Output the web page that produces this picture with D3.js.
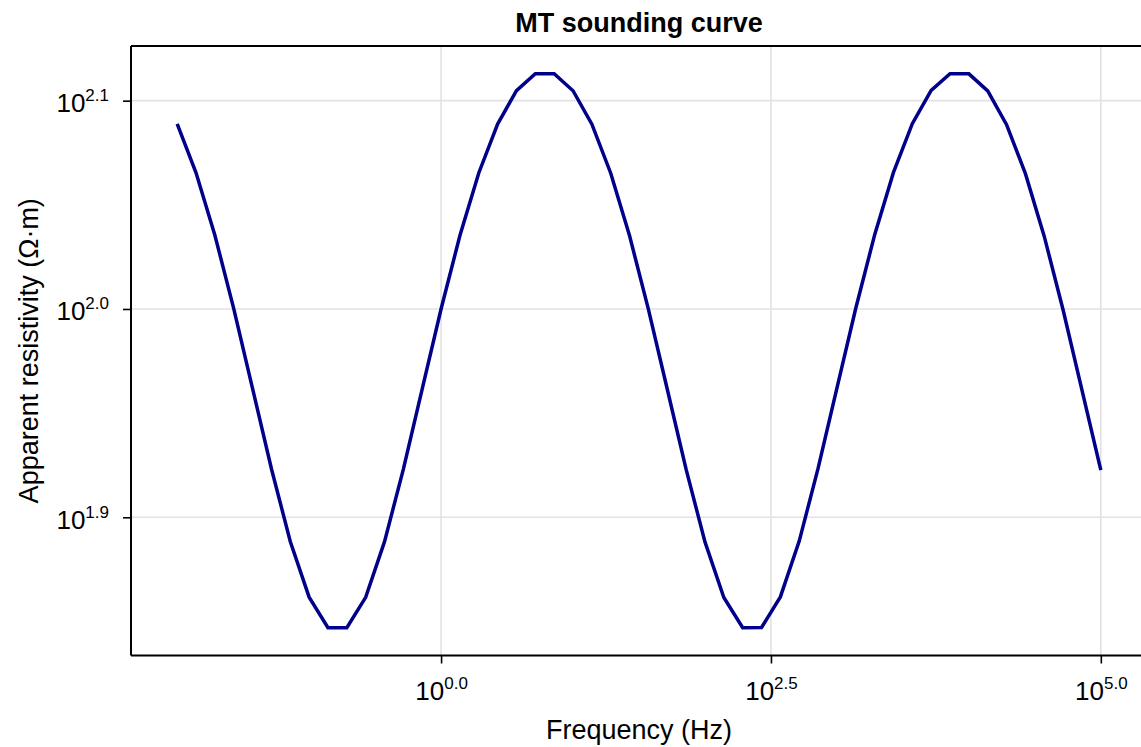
<!DOCTYPE html>
<html>
<head>
<meta charset="utf-8">
<script src="https://cdn.jsdelivr.net/npm/d3@7"></script>
<style>
  html, body { margin: 0; padding: 0; background: #fff; }
  svg { display: block; font-family: "Liberation Sans", Arial, Helvetica, sans-serif; }
</style>
</head>
<body>
<svg id="chart" width="1141" height="747"></svg>
<script>
// Sounding frequencies (Hz), log-spaced from 10^-2 to 10^5
const frequency = [
  0.01, 0.013895, 0.019307, 0.026827, 0.037276, 0.051795, 0.071969,
  0.1, 0.13895, 0.19307, 0.26827, 0.37276, 0.51795, 0.71969,
  1, 1.3895, 1.9307, 2.6827, 3.7276, 5.1795, 7.1969,
  10, 13.895, 19.307, 26.827, 37.276, 51.795, 71.969,
  100, 138.95, 193.07, 268.27, 372.76, 517.95, 719.69,
  1000, 1389.5, 1930.7, 2682.7, 3727.6, 5179.5, 7196.9,
  10000, 13895, 19307, 26827, 37276, 51795, 71969,
  100000
];

// Apparent resistivity (ohm·m) at each frequency
const resistivity = [
  122.70, 116.25, 108.49, 100.04, 91.58, 83.81, 77.34,
  72.72, 70.31, 70.30, 72.71, 77.32, 83.78, 91.55,
  100.00, 108.45, 116.22, 122.68, 127.29, 129.70, 129.69,
  127.28, 122.66, 116.19, 108.42, 99.96, 91.51, 83.75,
  77.30, 72.69, 70.30, 70.32, 72.74, 77.37, 83.84,
  91.62, 100.08, 108.53, 116.29, 122.73, 127.32, 129.70,
  129.68, 127.25, 122.60, 116.13, 108.35, 99.89, 91.43,
  83.68
];

// Tick exponents (base 10) and their labels
const xTickExponents = [0.0, 2.5, 5.0];
const xTickLabels = ["0.0", "2.5", "5.0"];
const yTickExponents = [1.9, 2.0, 2.1];
const yTickLabels = ["1.9", "2.0", "2.1"];

const titleText = "MT sounding curve";
const xLabelText = "Frequency (Hz)";
const yLabelText = "Apparent resistivity (Ω·m)";

const svg = d3.select("#chart");
const plot = { left: 131, right: 1147, top: 46, bottom: 655.5 };

// Pad the log-space extent by 5% on each side
function paddedLogDomain(values) {
  const [lo, hi] = d3.extent(values, v => Math.log10(v));
  const pad = (hi - lo) * 0.05;
  return [Math.pow(10, lo - pad), Math.pow(10, hi + pad)];
}

const x = d3.scaleLog().domain(paddedLogDomain(frequency)).range([plot.left, plot.right]);
const y = d3.scaleLog().domain(paddedLogDomain(resistivity)).range([plot.bottom, plot.top]);

const gridColor = "#e2e2e2";

svg.append("defs").append("clipPath").attr("id", "plotClip")
  .append("rect")
  .attr("x", plot.left).attr("y", plot.top)
  .attr("width", plot.right - plot.left).attr("height", plot.bottom - plot.top);

// Gridlines
const grid = svg.append("g");
grid.selectAll("line.vx").data(xTickExponents).join("line")
  .attr("x1", d => x(Math.pow(10, d))).attr("x2", d => x(Math.pow(10, d)))
  .attr("y1", plot.top).attr("y2", plot.bottom)
  .attr("stroke", gridColor).attr("stroke-width", 1.6);
grid.selectAll("line.hy").data(yTickExponents).join("line")
  .attr("x1", plot.left).attr("x2", plot.right)
  .attr("y1", d => y(Math.pow(10, d))).attr("y2", d => y(Math.pow(10, d)))
  .attr("stroke", gridColor).attr("stroke-width", 1.6);

// Curve
const pts = frequency.map((f, i) => [f, resistivity[i]]);
svg.append("path")
  .datum(pts)
  .attr("clip-path", "url(#plotClip)")
  .attr("fill", "none")
  .attr("stroke", "#00008b")
  .attr("stroke-width", 3.5)
  .attr("stroke-linejoin", "miter")
  .attr("d", d3.line().x(d => x(d[0])).y(d => y(d[1])));

// Axes via d3 axis generators
const xAxis = d3.axisBottom(x)
  .tickValues(xTickExponents.map(e => Math.pow(10, e)))
  .tickSize(8).tickFormat(() => "");
const yAxis = d3.axisLeft(y)
  .tickValues(yTickExponents.map(e => Math.pow(10, e)))
  .tickSize(8).tickFormat(() => "");

const gx = svg.append("g").attr("transform", `translate(0,${plot.bottom})`).call(xAxis);
const gy = svg.append("g").attr("transform", `translate(${plot.left},0)`).call(yAxis);
[gx, gy].forEach(g => {
  g.select(".domain").remove();
  g.selectAll(".tick line").attr("stroke", "#000").attr("stroke-width", 1.6);
});

// Power-of-ten tick labels
function powerLabel(sel, exp) {
  sel.append("tspan").attr("font-size", 26).text("10");
  sel.append("tspan").attr("font-size", 17).attr("dy", -11).text(exp);
}

gx.selectAll(".tick").each(function (d, i) {
  d3.select(this).append("text")
    .attr("x", 0).attr("y", 44.5)
    .attr("text-anchor", "middle")
    .attr("fill", "#000")
    .call(powerLabel, xTickLabels[i]);
});
gy.selectAll(".tick").each(function (d, i) {
  d3.select(this).append("text")
    .attr("x", -22).attr("y", 11)
    .attr("text-anchor", "end")
    .attr("fill", "#000")
    .call(powerLabel, yTickLabels[i]);
});

// Frame: left, top and bottom spines
const frame = svg.append("g").attr("stroke", "#000").attr("stroke-width", 2);
frame.append("line").attr("x1", plot.left).attr("x2", plot.left).attr("y1", plot.top).attr("y2", plot.bottom);
frame.append("line").attr("x1", plot.left).attr("x2", plot.right).attr("y1", plot.top).attr("y2", plot.top);
frame.append("line").attr("x1", plot.left).attr("x2", plot.right).attr("y1", plot.bottom).attr("y2", plot.bottom);

// Title and axis labels
const cx = (plot.left + plot.right) / 2;
svg.append("text")
  .attr("x", cx).attr("y", 32)
  .attr("text-anchor", "middle")
  .attr("font-size", 27).attr("font-weight", "bold")
  .text(titleText);

svg.append("text")
  .attr("x", cx).attr("y", 739)
  .attr("text-anchor", "middle")
  .attr("font-size", 27)
  .text(xLabelText);

svg.append("text")
  .attr("transform", `translate(38,${(plot.top + plot.bottom) / 2}) rotate(-90)`)
  .attr("text-anchor", "middle")
  .attr("font-size", 27)
  .text(yLabelText);
</script>
</body>
</html>
